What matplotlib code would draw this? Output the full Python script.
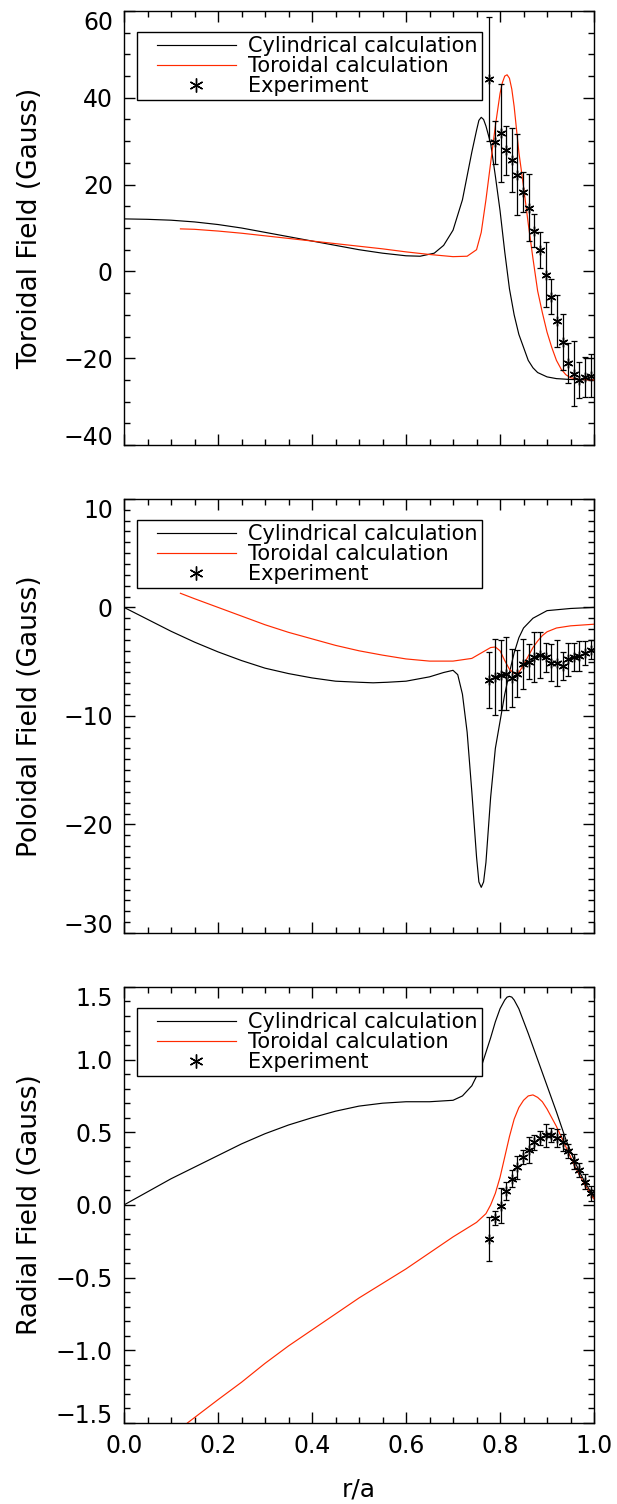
import matplotlib
matplotlib.use('Agg')
import matplotlib.pyplot as plt
from matplotlib.ticker import MultipleLocator, FuncFormatter
from matplotlib.lines import Line2D
from matplotlib.legend_handler import HandlerLine2D

plt.rcParams['font.family'] = ['DejaVu Sans']

# ---- experiment: r/a positions (same for all three panels)
x_exp = [0.777, 0.789, 0.801, 0.813, 0.825, 0.837, 0.849, 0.861, 0.873, 0.885,
         0.897, 0.909, 0.921, 0.933, 0.945, 0.957, 0.969, 0.981, 0.993]

# ---- toroidal field
tor_exp = [44.3, 29.7, 31.9, 27.9, 25.7, 22.3, 18.2, 14.7, 9.4, 5.0,
           -0.8, -5.8, -11.4, -16.3, -21.2, -23.6, -25.0, -24.4, -24.0]
tor_err = [14.2, 4.9, 11.3, 5.6, 7.4, 9.3, 4.6, 7.8, 3.8, 4.1,
           7.5, 4.0, 6.0, 6.4, 4.6, 7.5, 4.1, 4.6, 4.9]
tor_cyl_x = [0.0, 0.05, 0.1, 0.15, 0.2, 0.25, 0.3, 0.35, 0.4, 0.45, 0.5, 0.55, 0.6,
             0.63, 0.66, 0.68, 0.70, 0.72, 0.73, 0.74, 0.75, 0.755, 0.76, 0.765, 0.77,
             0.78, 0.79, 0.80, 0.81, 0.82, 0.83, 0.84, 0.85, 0.86, 0.87, 0.88, 0.90,
             0.92, 0.95, 1.0]
tor_cyl_y = [12.1, 12.0, 11.8, 11.4, 10.8, 10.0, 9.0, 8.0, 7.0, 6.0, 5.0, 4.2, 3.6,
             3.5, 4.2, 6.0, 9.5, 16.5, 22.0, 27.5, 32.5, 34.8, 35.5, 35.0, 33.5,
             29.5, 22.0, 14.0, 4.5, -4.0, -10.0, -14.5, -17.5, -20.5, -22.2, -23.3, -24.3,
             -24.7, -24.9, -25.0]
tor_tor_x = [0.12, 0.15, 0.2, 0.25, 0.3, 0.35, 0.4, 0.45, 0.5, 0.55, 0.6, 0.65, 0.70,
             0.73, 0.75, 0.76, 0.77, 0.78, 0.79, 0.80, 0.805, 0.81, 0.815, 0.82, 0.825,
             0.83, 0.84, 0.85, 0.86, 0.87, 0.88, 0.89, 0.90, 0.91, 0.92, 0.93, 0.94,
             0.95, 0.97, 1.0]
tor_tor_y = [9.8, 9.7, 9.3, 8.8, 8.2, 7.6, 7.0, 6.4, 5.8, 5.2, 4.5, 3.9, 3.4,
             3.5, 5.0, 9.0, 16.5, 25.0, 33.5, 41.0, 43.5, 45.0, 45.3, 44.5, 42.0,
             38.0, 27.5, 19.5, 11.0, 3.0, -4.5, -9.5, -14.0, -17.5, -20.5, -22.5, -23.8,
             -24.5, -24.9, -25.0]

# ---- poloidal field
pol_exp = [-6.7, -6.4, -6.25, -6.1, -6.5, -6.1, -5.2, -5.0, -4.6, -4.4,
           -4.6, -5.1, -5.1, -5.4, -4.8, -4.6, -4.5, -4.2, -3.9]
pol_err = [2.6, 3.5, 3.2, 3.4, 2.7, 2.2, 2.3, 1.6, 2.3, 2.1,
           1.35, 1.7, 2.1, 1.3, 1.5, 1.3, 1.4, 1.1, 0.9]
pol_cyl_x = [0.0, 0.05, 0.1, 0.15, 0.2, 0.25, 0.3, 0.35, 0.4, 0.45, 0.5, 0.53, 0.56,
             0.6, 0.65, 0.68, 0.70, 0.71, 0.72, 0.73, 0.74, 0.75, 0.755, 0.76, 0.765,
             0.77, 0.78, 0.79, 0.80, 0.81, 0.82, 0.83, 0.84, 0.85, 0.87, 0.90, 0.95, 1.0]
pol_cyl_y = [0.0, -1.1, -2.2, -3.2, -4.1, -4.9, -5.6, -6.1, -6.5, -6.8, -6.9, -6.95, -6.9,
             -6.8, -6.4, -6.0, -5.8, -6.2, -8.0, -11.5, -17.0, -23.0, -25.3, -25.8, -25.3,
             -23.5, -17.5, -13.0, -10.5, -8.0, -6.0, -4.2, -2.8, -1.9, -1.0, -0.3, -0.1, 0.0]
pol_tor_x = [0.12, 0.15, 0.2, 0.25, 0.3, 0.35, 0.4, 0.45, 0.5, 0.55, 0.6, 0.65, 0.7,
             0.74, 0.76, 0.78, 0.79, 0.80, 0.81, 0.82, 0.83, 0.84, 0.85, 0.86, 0.87,
             0.88, 0.89, 0.90, 0.92, 0.95, 1.0]
pol_tor_y = [1.3, 0.8, 0.0, -0.8, -1.6, -2.3, -2.9, -3.5, -4.0, -4.4, -4.75, -4.95, -4.95,
             -4.7, -4.2, -3.7, -3.65, -4.0, -4.9, -5.7, -6.1, -6.0, -5.3, -4.5, -3.7,
             -3.1, -2.6, -2.25, -1.9, -1.7, -1.55]

# ---- radial field
rad_exp = [-0.236, -0.09, -0.005, 0.096, 0.18, 0.26, 0.33, 0.38, 0.43, 0.46,
           0.48, 0.48, 0.46, 0.43, 0.37, 0.30, 0.24, 0.16, 0.08]
rad_err = [0.15, 0.05, 0.12, 0.06, 0.06, 0.08, 0.05, 0.09, 0.05, 0.05,
           0.08, 0.05, 0.06, 0.06, 0.05, 0.05, 0.05, 0.05, 0.05]
rad_cyl_x = [0.0, 0.05, 0.1, 0.15, 0.2, 0.25, 0.3, 0.35, 0.4, 0.45, 0.5, 0.55, 0.6,
             0.65, 0.7, 0.72, 0.74, 0.76, 0.78, 0.79, 0.80, 0.81, 0.815, 0.82, 0.825,
             0.83, 0.84, 0.86, 0.88, 0.90, 0.92, 0.94, 0.96, 0.98, 1.0]
rad_cyl_y = [0.0, 0.09, 0.18, 0.26, 0.34, 0.42, 0.49, 0.55, 0.60, 0.645, 0.68, 0.70, 0.71,
             0.71, 0.72, 0.75, 0.82, 0.95, 1.15, 1.26, 1.35, 1.41, 1.43, 1.435, 1.43,
             1.41, 1.35, 1.18, 1.0, 0.82, 0.64, 0.45, 0.29, 0.16, 0.05]
rad_tor_x = [0.135, 0.2, 0.25, 0.3, 0.35, 0.4, 0.45, 0.5, 0.55, 0.6, 0.65, 0.7, 0.73,
             0.75, 0.77, 0.78, 0.79, 0.80, 0.81, 0.82, 0.83, 0.84, 0.85, 0.86, 0.87,
             0.88, 0.89, 0.90, 0.92, 0.94, 0.96, 0.98, 1.0]
rad_tor_y = [-1.5, -1.34, -1.22, -1.09, -0.97, -0.86, -0.75, -0.64, -0.54, -0.44, -0.33, -0.22, -0.16,
             -0.12, -0.06, 0.0, 0.08, 0.19, 0.33, 0.47, 0.59, 0.67, 0.72, 0.75, 0.757,
             0.74, 0.71, 0.66, 0.54, 0.40, 0.26, 0.14, 0.04]

legend_labels = ['Cylindrical calculation', 'Toroidal calculation', 'Experiment']

RED = '#ff2a00'
fig = plt.figure(figsize=(6.17, 15.04), dpi=100)

panels = [
    ([0.201, 0.7041, 0.7618, 0.2886], 'Toroidal Field (Gauss)', (-40, 60), 20, 5, '%d',
     tor_cyl_x, tor_cyl_y, tor_tor_x, tor_tor_y, tor_exp, tor_err),
    ([0.201, 0.3797, 0.7618, 0.2886], 'Poloidal Field (Gauss)', (-30, 10), 10, 1, '%d',
     pol_cyl_x, pol_cyl_y, pol_tor_x, pol_tor_y, pol_exp, pol_err),
    ([0.201, 0.0539, 0.7618, 0.2899], 'Radial Field (Gauss)', (-1.5, 1.5), 0.5, 0.1, '%.1f',
     rad_cyl_x, rad_cyl_y, rad_tor_x, rad_tor_y, rad_exp, rad_err),
]


def minus_fmt(fmt):
    return FuncFormatter(lambda v, p: (fmt % v).replace('-', '\u2212'))


for i, (pos, ylab, ylim, major, minor, fmt, cx, cy, tx, ty, ey, ee) in enumerate(panels):
    ax = fig.add_axes(pos)
    ax.plot(cx, cy, color='black', lw=0.85)
    ax.plot(tx, ty, color=RED, lw=0.85)
    ax.errorbar(x_exp, ey, yerr=ee, fmt='none', ecolor='black', elinewidth=0.9,
                capsize=2, capthick=0.9)
    ax.plot(x_exp, ey, ls='none', marker=(6, 2, 0), ms=7, mew=1.0, color='black')

    ax.set_xlim(0, 1)
    ax.set_ylim(*ylim)
    ax.xaxis.set_major_locator(MultipleLocator(0.2))
    ax.xaxis.set_minor_locator(MultipleLocator(0.05))
    ax.yaxis.set_major_locator(MultipleLocator(major))
    ax.yaxis.set_minor_locator(MultipleLocator(minor))
    ax.tick_params(which='both', direction='in', top=True, right=True, width=1.0,
                   labelsize=17, pad=8)
    ax.tick_params(which='major', length=8)
    ax.tick_params(which='minor', length=4)
    for sp in ax.spines.values():
        sp.set_linewidth(1.0)

    ax.yaxis.set_major_formatter(minus_fmt(fmt))
    ax.set_ylabel(ylab, fontsize=19, va='center')
    ax.yaxis.set_label_coords(-0.2, 0.5)

    if i < 2:
        ax.tick_params(labelbottom=False)
    else:
        ax.xaxis.set_major_formatter(minus_fmt('%.1f'))
        ax.set_xlabel('r/a', fontsize=18, labelpad=14)

    # keep the end labels inside the frame like the original
    fig.canvas.draw()
    for t, v in zip(ax.yaxis.get_major_ticks(), ax.get_yticks()):
        if abs(v - ylim[1]) < 1e-9:
            t.label1.set_va('top')
        elif abs(v - ylim[0]) < 1e-9:
            t.label1.set_va('baseline')

    handles = [Line2D([], [], color='black', lw=0.85),
               Line2D([], [], color=RED, lw=0.85),
               Line2D([], [], ls='none', marker=(6, 2, 0), ms=10, mew=1.0, color='black')]
    leg = ax.legend(handles, legend_labels,
                    handler_map={Line2D: HandlerLine2D(xpad=0.77)},
                    loc='upper left', bbox_to_anchor=(0.028, 0.952), borderaxespad=0,
                    fontsize=15, frameon=True, fancybox=False, edgecolor='black',
                    framealpha=1, handlelength=4.52, handletextpad=0.62,
                    borderpad=0.2, labelspacing=0.0)
    leg.get_frame().set_linewidth(1.0)

fig.savefig('out.png', dpi=100)
